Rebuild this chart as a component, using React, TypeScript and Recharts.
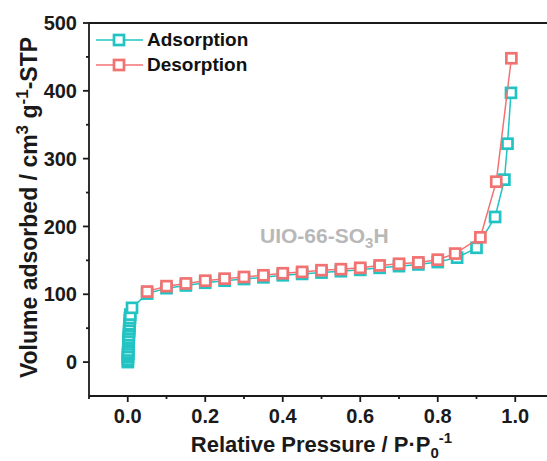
import {
  Legend,
  ReferenceLine,
  Scatter,
  ScatterChart,
  XAxis,
  YAxis,
} from "recharts";

// N2 isotherm, UIO-66-SO3H
const adsP = [
  0.0002, 0.0004, 0.0006, 0.0008, 0.001, 0.0012, 0.0015, 0.0018, 0.002,
  0.0023, 0.0026, 0.003, 0.0034, 0.0038, 0.0042, 0.0047, 0.0052, 0.0058,
  0.0065, 0.011, 0.05, 0.1, 0.15, 0.2, 0.25, 0.3, 0.35, 0.4, 0.45, 0.5, 0.55,
  0.6, 0.65, 0.7, 0.75, 0.8, 0.85, 0.9, 0.948, 0.972, 0.98, 0.989,
];
const adsV = [
  0, 3, 7, 11, 13, 17, 22, 26, 30, 32, 36, 40, 45, 49, 53, 56, 61, 65, 70, 80,
  101, 109, 113, 117, 120, 122.5, 125, 128, 130, 132, 134, 136, 139, 141.5,
  144, 147.5, 154, 168.5, 214, 269, 322, 397,
];
const desP = [
  0.99, 0.951, 0.91, 0.845, 0.8, 0.75, 0.7, 0.65, 0.6, 0.55, 0.5, 0.45, 0.4,
  0.35, 0.3, 0.25, 0.2, 0.15, 0.1, 0.05,
];
const desV = [
  448, 266, 184, 160, 151, 147, 145, 142.5, 139, 137, 135.5, 133, 131, 128,
  125.5, 123, 120, 116, 112, 104,
];
const seriesNames = ["Adsorption", "Desorption"];
const xTicks = [-0.1, 0, 0.1, 0.2, 0.3, 0.4, 0.5, 0.6, 0.7, 0.8, 0.9, 1.0];
const yTicks = [0, 50, 100, 150, 200, 250, 300, 350, 400, 450, 500];
const sampleLabel = "UIO-66-SO";

const TEAL = "#22c3c3";
const RED = "#f27272";
const INK = "#1a1a1a";
const FONT = '"Liberation Sans", Arial, sans-serif';

const adsorption = adsP.map((p, i) => ({ p, v: adsV[i] }));
const desorption = desP.map((p, i) => ({ p, v: desV[i] }));

function square(color: string) {
  return (props: any) => (
    <rect
      x={props.cx - 5}
      y={props.cy - 5}
      width={10}
      height={10}
      fill="#fff"
      stroke={color}
      strokeWidth={2.7}
    />
  );
}

function XTick({ x, y, payload }: any) {
  const major = Math.round(payload.value * 10) % 2 === 0;
  return (
    <g>
      <line x1={x} x2={x} y1={y} y2={y + (major ? 6 : 3)} stroke={INK} strokeWidth={1.8} />
      {major && (
        <text
          x={x}
          y={y + 27}
          textAnchor="middle"
          fontFamily={FONT}
          fontWeight={700}
          fontSize={20}
          fill={INK}
        >
          {payload.value.toFixed(1)}
        </text>
      )}
    </g>
  );
}

function YTick({ x, y, payload }: any) {
  const major = payload.value % 100 === 0;
  return (
    <g>
      <line x1={x} x2={x - (major ? 6 : 3)} y1={y} y2={y} stroke={INK} strokeWidth={1.8} />
      {major && (
        <text
          x={x - 12}
          y={y}
          dy="0.36em"
          textAnchor="end"
          fontFamily={FONT}
          fontWeight={700}
          fontSize={20}
          fill={INK}
        >
          {payload.value}
        </text>
      )}
    </g>
  );
}

function XTitle({ viewBox }: any) {
  const cx = viewBox.x + viewBox.width / 2;
  const y = viewBox.y + 56;
  return (
    <text x={cx} y={y} textAnchor="middle" fontFamily={FONT} fontWeight={700} fontSize={22} fill={INK}>
      Relative Pressure / P·P
      <tspan fontSize={15} dy={6}>0</tspan>
      <tspan fontSize={15} dy={-15}>-1</tspan>
    </text>
  );
}

function YTitle({ viewBox }: any) {
  const x = 37;
  const cy = viewBox.y + viewBox.height / 2 - 2;
  return (
    <text
      x={x}
      y={cy}
      transform={`rotate(-90 ${x} ${cy})`}
      textAnchor="middle"
      fontFamily={FONT}
      fontWeight={700}
      fontSize={23}
      fill={INK}
    >
      Volume adsorbed / cm
      <tspan fontSize={17} dy={-9}>3</tspan>
      <tspan dy={9}> g</tspan>
      <tspan fontSize={17} dy={-9}>-1</tspan>
      <tspan dy={9}>-STP</tspan>
    </text>
  );
}

function LegendBox() {
  const colors = [TEAL, RED];
  return (
    <div style={{ fontFamily: FONT, fontWeight: 700, fontSize: 19, color: "#111" }}>
      {seriesNames.map((name, i) => (
        <div key={name} style={{ display: "flex", alignItems: "center", height: 25 }}>
          <svg width={51} height={16}>
            <line x1={0} x2={47} y1={8} y2={8} stroke={colors[i]} strokeWidth={1.5} />
            <rect x={18} y={3} width={10} height={10} fill="#fff" stroke={colors[i]} strokeWidth={2.7} />
          </svg>
          <span>{name}</span>
        </div>
      ))}
    </div>
  );
}

export default function App() {
  return (
    <div
      style={{
        position: "absolute",
        left: 0,
        top: 0,
        width: 547,
        height: 461,
        overflow: "hidden",
        background: "#fff",
      }}
    >
      <ScatterChart width={560} height={461} margin={{ top: 23, right: 6, bottom: 0, left: 0 }}>
        <XAxis
          type="number"
          dataKey="p"
          domain={[-0.1, 1.1]}
          ticks={xTicks}
          interval={0}
          allowDataOverflow
          height={65}
          tickSize={0}
          tickMargin={0}
          tick={<XTick />}
          axisLine={{ stroke: INK, strokeWidth: 1.8 }}
          label={<XTitle />}
        />
        <YAxis
          type="number"
          dataKey="v"
          domain={[-50, 500]}
          ticks={yTicks}
          interval={0}
          allowDataOverflow
          width={89}
          tickSize={0}
          tickMargin={0}
          tick={<YTick />}
          axisLine={{ stroke: INK, strokeWidth: 1.8 }}
          label={<YTitle />}
        />
        <ReferenceLine y={500} stroke={INK} strokeWidth={1.8} />
        <Legend
          layout="vertical"
          align="center"
          verticalAlign="middle"
          content={<LegendBox />}
          wrapperStyle={{ left: 96, top: 27, width: "auto" }}
        />
        <Scatter
          name={seriesNames[0]}
          data={adsorption}
          line={{ stroke: TEAL, strokeWidth: 1.5 }}
          shape={square(TEAL)}
          isAnimationActive={false}
        />
        <Scatter
          name={seriesNames[1]}
          data={desorption}
          line={{ stroke: RED, strokeWidth: 1.5 }}
          shape={square(RED)}
          isAnimationActive={false}
        />
      </ScatterChart>
      <div
        style={{
          position: "absolute",
          left: 260,
          top: 225,
          fontFamily: FONT,
          fontWeight: 700,
          fontSize: 21,
          lineHeight: "21px",
          color: "#b8b8b8",
          whiteSpace: "nowrap",
        }}
      >
        {sampleLabel}
        <span style={{ fontSize: 15, verticalAlign: "-5px", lineHeight: 0 }}>3</span>H
      </div>
    </div>
  );
}
